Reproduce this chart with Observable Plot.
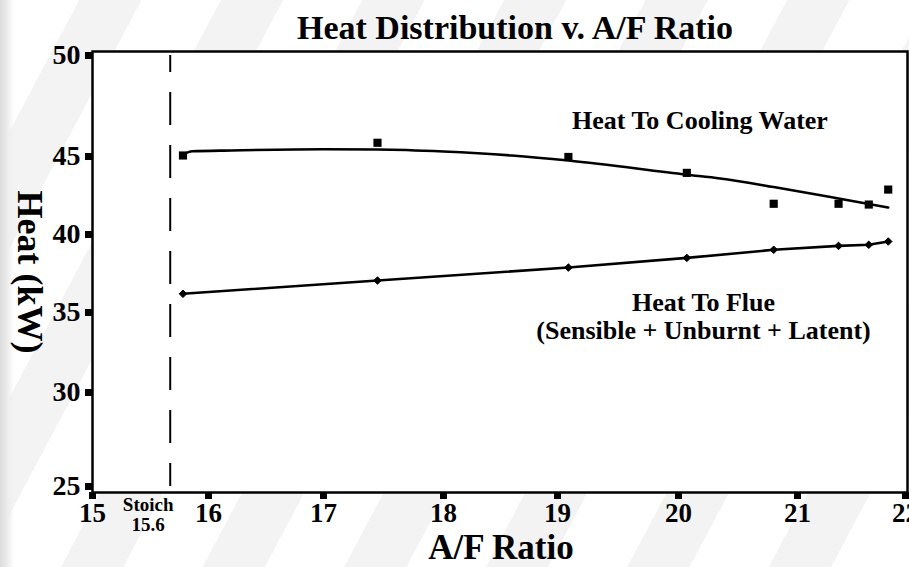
<!DOCTYPE html>
<html>
<head>
<meta charset="utf-8">
<script src="https://cdn.jsdelivr.net/npm/d3@7"></script>
<script src="https://cdn.jsdelivr.net/npm/@observablehq/plot@0.6"></script>
<style>
  html, body { margin: 0; padding: 0; background: #ffffff; }
  #chart {
    width: 909px; height: 567px; overflow: hidden;
    background:
      linear-gradient(90deg, #dcdcdc 0px, #eeeeee 8px, rgba(255,255,255,0) 14px),
      repeating-linear-gradient(118deg, #ffffff 0px, #ffffff 70px, #f3f3f3 70px, #f3f3f3 125px);
  }
</style>
</head>
<body>
<div id="chart"></div>
<script>
// ---- data ----
const afRatio      = [15.78, 17.45, 19.09, 20.07, 20.80, 21.38, 21.66, 21.84];
const coolingWater = [45.05, 45.68, 44.97, 43.95, 41.97, 41.97, 41.92, 42.88];
const flue         = [36.20, 37.05, 37.88, 38.50, 39.02, 39.27, 39.34, 39.55];

// fitted curve through the cooling-water points
const coolingFitX = [15.78, 15.86, 16.20, 17.00, 17.45, 18.00, 18.60, 19.09, 20.07, 20.35, 20.80, 21.38, 21.66, 21.84];
const coolingFitY = [45.10, 45.26, 45.30, 45.36, 45.35, 45.25, 45.05, 44.74, 43.83, 43.59, 43.04, 42.31, 41.96, 41.73];

const xTicks = [15, 16, 17, 18, 19, 20, 21, 22];
const yTicks = [25, 30, 35, 40, 45, 50];

const stoichPos = 15.67;          // where the dashed line is drawn
const stoichLabel = "Stoich\n15.6";

const titleText = "Heat Distribution v. A/F Ratio";
const xLabel = "A/F Ratio";
const yLabel = "Heat (kW)";

const annotations = [
  {x: 20.18, y: 46.78, text: "Heat To Cooling Water"},
  {x: 20.21, y: 35.64, text: "Heat To Flue"},
  {x: 20.21, y: 33.88, text: "(Sensible + Unburnt + Latent)"}
];

// ---- tables built from the arrays ----
const coolingPts = afRatio.map((x, i) => ({x, y: coolingWater[i]}));
const fluePts = afRatio.map((x, i) => ({x, y: flue[i]}));
const coolingFit = coolingFitX.map((x, i) => ({x, y: coolingFitY[i]}));

const serif = "'Liberation Serif', 'Times New Roman', Times, serif";

const chart = Plot.plot({
  width: 909,
  height: 567,
  marginLeft: 92,
  marginRight: 2,
  marginTop: 51,
  marginBottom: 75,
  style: {fontFamily: serif, fontWeight: "bold", background: "transparent", color: "#000", overflow: "visible"},
  x: {type: "linear", domain: xTicks, range: [92, 208, 323, 443, 557, 678, 797, 905]},
  y: {type: "linear", domain: yTicks, range: [486, 392, 312, 234, 156, 55]},
  marks: [
    Plot.frame({fill: "#ffffff", stroke: "#000", strokeWidth: 2.5}),
    Plot.ruleX([stoichPos], {y1: 50, y2: 25, stroke: "#000", strokeWidth: 2, strokeDasharray: "33,20", strokeDashoffset: 16}),
    Plot.line(coolingFit, {x: "x", y: "y", curve: "monotone-x", stroke: "#000", strokeWidth: 2.6}),
    Plot.line(fluePts, {x: "x", y: "y", stroke: "#000", strokeWidth: 2.6}),
    Plot.dot(coolingPts, {x: "x", y: "y", symbol: "square", r: 4.6, fill: "#000", stroke: "none"}),
    Plot.dot(fluePts, {x: "x", y: "y", symbol: "diamond2", r: 3.4, fill: "#000", stroke: "#000", strokeWidth: 1}),
    Plot.axisX({ticks: xTicks, tickFormat: d => String(d), tickSize: 7, tickPadding: 3, strokeWidth: 7, fontSize: 27, label: null}),
    Plot.axisY({ticks: yTicks, tickFormat: d => String(d), tickSize: 7, tickPadding: 5, strokeWidth: 7, fontSize: 28, label: null}),
    Plot.text(annotations, {x: "x", y: "y", text: "text", fontSize: 26, fontWeight: "bold", fill: "#000"}),
    Plot.text([stoichLabel], {x: d => stoichPos - 0.19, frameAnchor: "bottom", lineAnchor: "top", dy: 4, fontSize: 19, lineHeight: 1.05, fontWeight: "bold", fill: "#000"}),
    Plot.text([titleText], {frameAnchor: "top", lineAnchor: "middle", textAnchor: "middle", dx: 15, dy: -23, fontSize: 34, fontWeight: "bold", fill: "#000"}),
    Plot.text([xLabel], {frameAnchor: "bottom", lineAnchor: "middle", textAnchor: "middle", dx: 1, dy: 55, fontSize: 35, fontWeight: "bold", fill: "#000"}),
    Plot.text([yLabel], {frameAnchor: "left", lineAnchor: "middle", textAnchor: "middle", dx: -63, dy: 0, rotate: 90, fontSize: 36, fontWeight: "bold", fill: "#000"})
  ]
});

document.getElementById("chart").appendChild(chart);
</script>
</body>
</html>
